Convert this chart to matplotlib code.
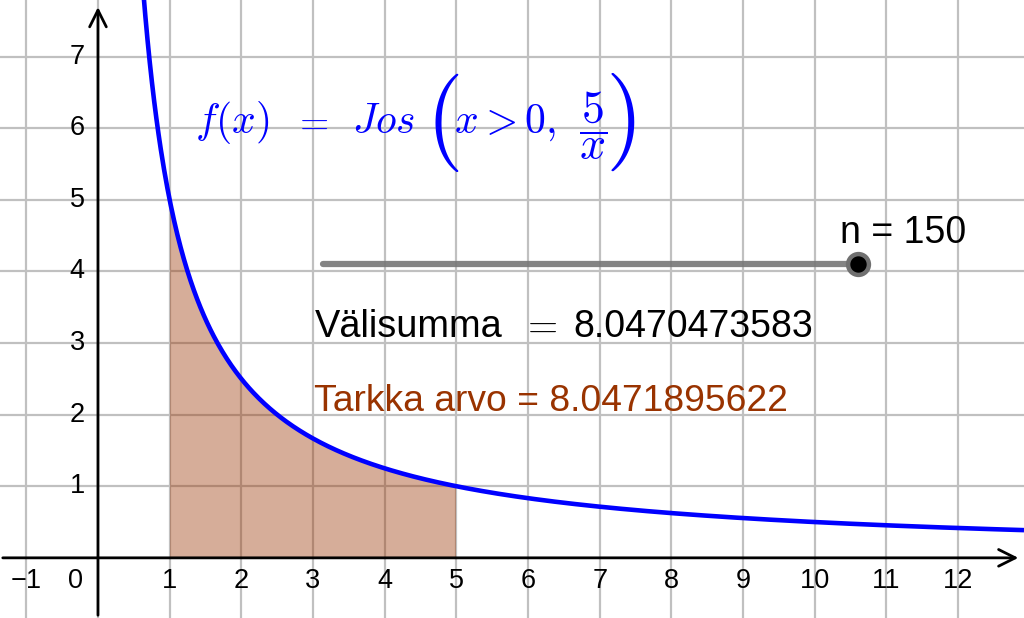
import matplotlib
matplotlib.use("Agg")
import matplotlib.pyplot as plt
import numpy as np

# data
k = 5.0            # f(x) = k / x
a, b = 1.0, 5.0    # integration interval
n = 150            # number of rectangles (slider)
valisumma = "8.0470473583"
tarkka = "8.0471895622"
x_ticks = list(range(-1, 13))
y_ticks = list(range(1, 8))

plt.rcParams['font.family'] = ['Liberation Sans', 'DejaVu Sans']
plt.rcParams['mathtext.fontset'] = 'cm'

W, H = 1024, 618
fig = plt.figure(figsize=(W / 100, H / 100), dpi=100)
ax = fig.add_axes([0, 0, 1, 1])
xmin, xmax = -1.367, 12.92
ymin, ymax = -0.84, 7.79
ax.set_xlim(xmin, xmax)
ax.set_ylim(ymin, ymax)
for s in ax.spines.values():
    s.set_visible(False)
ax.set_xticks([])
ax.set_yticks([])


def px(x, y):
    # pixel position (from top-left) -> data coords, used for text layout
    return (xmin + x / W * (xmax - xmin), ymax - y / H * (ymax - ymin))


# grid
for gx in range(-1, 13):
    ax.axvline(gx, color='#c0c0c0', lw=1.6, zorder=0)
for gy in range(1, 8):
    ax.axhline(gy, color='#c0c0c0', lw=1.6, zorder=0)

# midpoint sum rectangles
edges = np.linspace(a, b, n + 1)
mids = (edges[:-1] + edges[1:]) / 2
heights = k / mids
ax.fill_between(edges, np.append(heights, heights[-1]), 0, step='post',
                color='#993300', alpha=0.4, lw=0, zorder=1)

# curve
xs = np.linspace(0.63, xmax, 800)
ax.plot(xs, k / xs, color='#0000ff', lw=3.3, zorder=3, solid_capstyle='butt')

# axes with arrows
ax.annotate('', xy=(xmax - 0.04, 0), xytext=(xmin, 0),
            arrowprops=dict(arrowstyle='->', color='black', lw=2,
                            mutation_scale=30), zorder=4)
ax.annotate('', xy=(0, ymax - 0.06), xytext=(0, ymin),
            arrowprops=dict(arrowstyle='->', color='black', lw=2,
                            mutation_scale=30), zorder=4)

# tick labels
for t in x_ticks:
    lab = '\u22121' if t == -1 else str(t)
    xpos = -0.32 if t == 0 else t
    ax.text(xpos, -0.32, lab, ha='center', va='center', fontsize=19.5,
            zorder=5)
for t in y_ticks:
    ax.text(-0.29, t, str(t), ha='center', va='center', fontsize=19.5,
            zorder=5)

# formula f(x) = Jos(x > 0, 5/x), built from pieces
blue = '#0000ff'
base = px(0, 133)[1]
for left, s in [(195, r'$f(x)$'), (352, r'$Jos$'), (454, r'$x > 0,$')]:
    ax.text(px(left, 0)[0], base, s, color=blue, fontsize=30,
            ha='left', va='baseline', zorder=5)
ax.text(px(311, 0)[0], base, r'$=$', color=blue, fontsize=27,
        ha='center', va='baseline', zorder=5)
ax.text(*px(593, 126), r'$\dfrac{5}{x}$', color=blue, fontsize=33,
        ha='center', va='center', zorder=5)
ax.text(*px(442, 122), r'$($', color=blue, fontsize=70,
        ha='center', va='center', zorder=5)
ax.text(*px(620, 122), r'$)$', color=blue, fontsize=70,
        ha='center', va='center', zorder=5)

# slider
ax.plot([3.14, 10.6], [4.10, 4.10], color='#777777', lw=4.5,
        solid_capstyle='round', alpha=0.9, zorder=4)
ax.plot([10.6], [4.10], 'o', color='black', markersize=15,
        markeredgecolor='#707070', markeredgewidth=3.2, zorder=5)
ax.text(10.35, 4.40, 'n = %d' % n, fontsize=27, ha='left', va='baseline',
        zorder=5)

ax.text(3.02, 3.08, 'Välisumma', fontsize=27.4, ha='left',
        va='baseline', color='black', zorder=5)
ax.text(px(539, 0)[0], 3.08, '$=$', fontsize=28, ha='center',
        va='baseline', color='black', zorder=5)
ax.text(px(573, 0)[0], 3.08, valisumma, fontsize=27, ha='left',
        va='baseline', color='black', zorder=5)
ax.text(3.02, 2.05, 'Tarkka arvo = ' + tarkka, fontsize=26.8, ha='left',
        va='baseline', color='#993300', zorder=5)

fig.savefig('out.png', dpi=100)
